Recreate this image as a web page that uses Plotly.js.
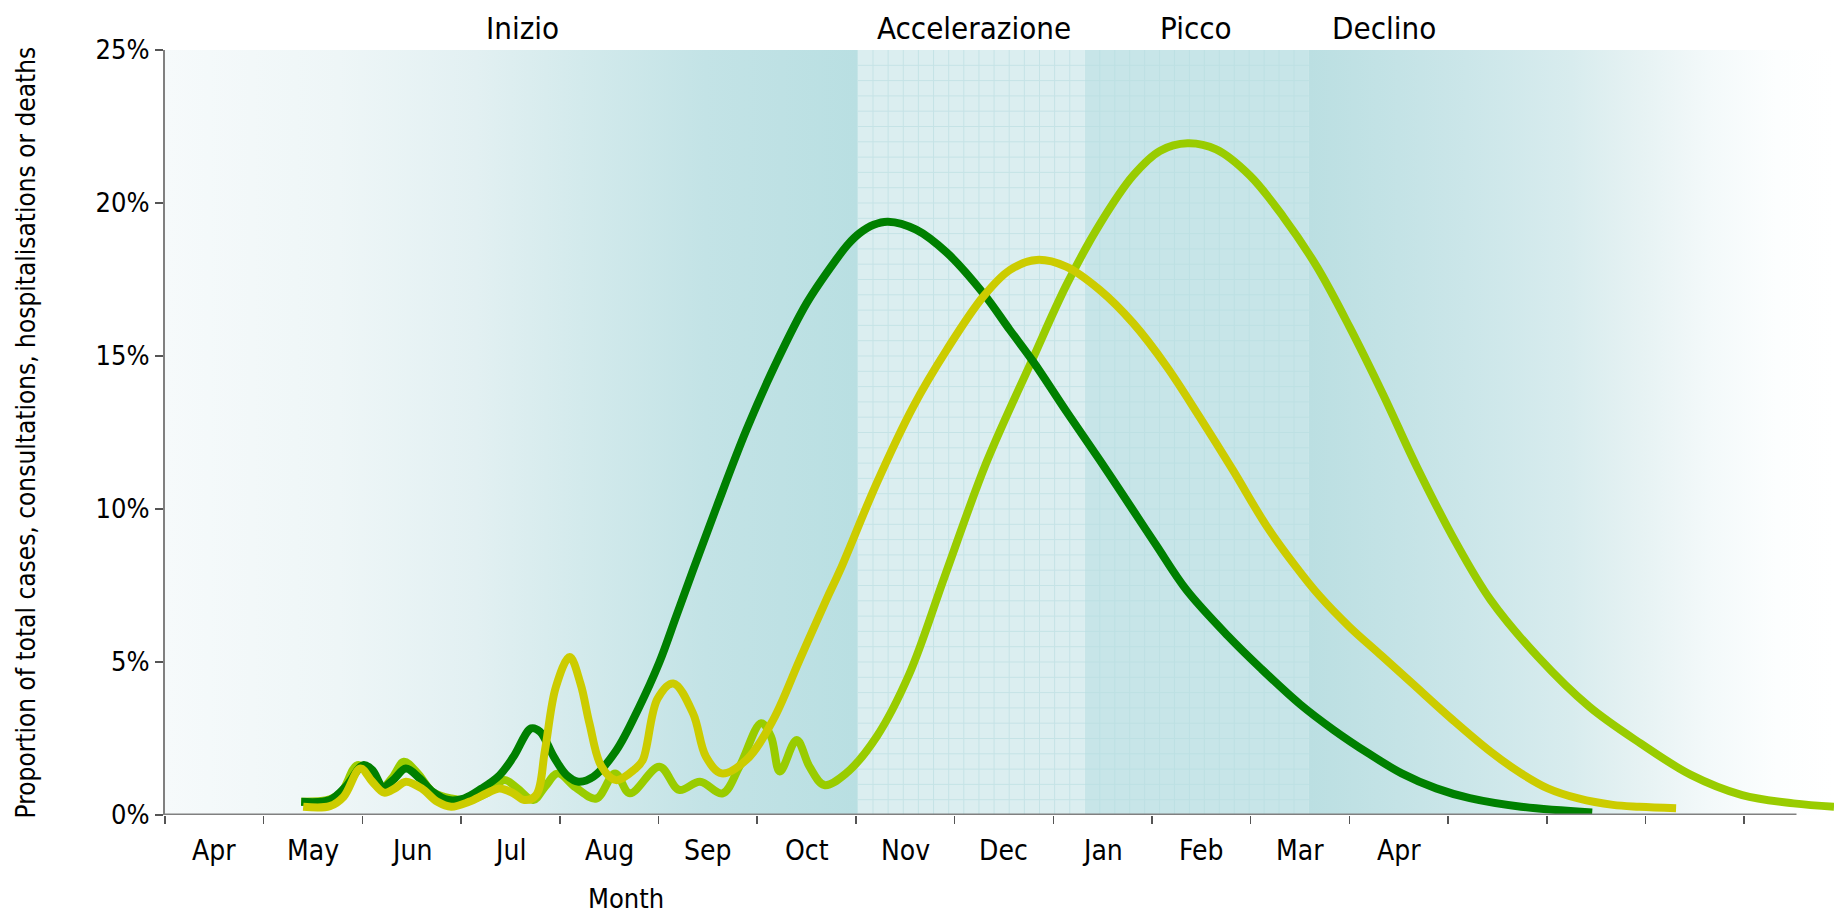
<!DOCTYPE html>
<html>
<head>
<meta charset="utf-8">
<script src="https://cdn.plot.ly/plotly-3.0.1.min.js"></script>
<style>html,body{margin:0;padding:0;background:#fff;}#chart{width:1834px;height:917px;}</style>
</head>
<body>
<div id="chart"></div>
<script>
// ---- Data (x = months since start of April; y = % of total) ----
const monthLabels = ['Apr','May','Jun','Jul','Aug','Sep','Oct','Nov','Dec','Jan','Feb','Mar','Apr'];
const monthTicks = [0,1,2,3,4,5,6,7,8,9,10,11,12,13,14,15,16];
const yTicks = [0,5,10,15,20,25];
const yTickText = ['0%','5%','10%','15%','20%','25%'];

const phaseNames = ['Inizio','Accelerazione','Picco','Declino'];
const phaseStart = [0, 7.02, 9.32, 11.59];
const phaseEnd   = [7.02, 9.32, 11.59, 16.91];
const phaseLabelX = [3.62, 8.20, 10.45, 12.35];

const darkX = [1.38,1.67,1.83,2.01,2.10,2.21,2.31,2.44,2.58,2.71,2.87,3.03,3.21,3.39,3.53,3.71,3.80,3.94,4.07,4.19,4.34,4.57,4.80,5.01,5.18,5.35,5.59,5.89,6.19,6.50,6.80,6.92,7.04,7.18,7.325,7.61,7.92,8.29,8.56,8.80,9.13,9.47,9.81,10.04,10.35,10.77,11.10,11.50,11.84,12.19,12.53,12.88,13.22,13.74,14.46];
const darkY = [0.43,0.49,0.92,1.63,1.47,0.92,1.14,1.52,1.20,0.76,0.49,0.54,0.87,1.30,1.90,2.83,2.72,1.90,1.30,1.09,1.25,2.10,3.50,5.00,6.50,8.00,10.08,12.58,14.76,16.72,18.15,18.65,19.02,19.29,19.39,19.13,18.38,17.05,15.85,14.80,13.20,11.60,9.95,8.83,7.35,5.85,4.80,3.62,2.78,2.02,1.36,0.87,0.55,0.27,0.08];

const yellowX = [1.40,1.67,1.81,1.98,2.10,2.22,2.33,2.44,2.60,2.76,2.90,3.08,3.26,3.39,3.53,3.64,3.76,3.85,3.96,4.10,4.21,4.30,4.42,4.57,4.76,4.84,4.99,5.15,5.35,5.48,5.64,5.89,6.16,6.43,6.70,6.84,7.21,7.58,7.92,8.29,8.56,8.83,9.13,9.47,9.81,10.15,10.48,10.82,11.16,11.45,11.70,12.00,12.30,12.63,13.05,13.43,13.74,14.01,14.32,14.67,14.94,15.31];
const yellowY = [0.27,0.29,0.60,1.52,1.09,0.73,0.87,1.09,0.87,0.43,0.27,0.43,0.71,0.87,0.71,0.49,0.65,2.12,4.18,5.16,4.29,3.00,1.60,1.14,1.50,1.79,3.80,4.30,3.32,1.91,1.36,1.80,3.10,5.07,7.03,8.00,10.84,13.34,15.20,16.94,17.81,18.14,17.92,17.16,16.07,14.65,13.02,11.27,9.45,8.15,7.15,6.15,5.28,4.32,3.10,2.07,1.36,0.87,0.54,0.33,0.27,0.22];

const lightX = [1.38,1.67,1.79,1.95,2.08,2.19,2.31,2.42,2.56,2.71,2.90,3.08,3.26,3.44,3.57,3.73,3.85,3.98,4.16,4.37,4.56,4.71,5.01,5.21,5.42,5.65,5.82,6.04,6.14,6.23,6.40,6.53,6.68,6.90,7.21,7.54,7.90,8.32,8.79,9.13,9.47,9.81,10.08,10.36,10.65,10.99,11.33,11.67,12.00,12.34,12.68,13.08,13.43,13.91,14.43,14.95,15.46,15.98,16.50,16.91];
const lightY = [0.43,0.51,0.76,1.63,1.36,0.87,1.25,1.74,1.36,0.76,0.54,0.49,0.71,1.14,0.87,0.49,0.92,1.36,0.90,0.54,1.36,0.71,1.58,0.82,1.09,0.71,1.58,3.00,2.56,1.42,2.45,1.58,0.98,1.36,2.56,4.60,7.80,11.50,14.90,17.30,19.30,20.90,21.70,21.95,21.75,20.90,19.55,17.92,15.96,13.75,11.40,8.90,7.03,5.17,3.54,2.34,1.31,0.65,0.38,0.27];

// ---- Styling ----
const FONT = "'DejaVu Sans Condensed', 'DejaVu Sans', sans-serif";
const xMax = 16.91, yMax = 25, axisEnd = 16.53;

const phaseFills = [
  {type:'horizontal', colorscale:[[0,'#f6fafb'],[0.25,'#eef6f7'],[0.45,'#e2f0f2'],[0.6,'#d3eaec'],[0.78,'#c3e3e6'],[1,'#b9dfe2']]},
  null,
  null,
  {type:'horizontal', colorscale:[[0,'#bbdfe2'],[0.3,'#cbe6e9'],[0.5,'#d8ecee'],[0.63,'#e6f2f3'],[0.76,'#f3f9fa'],[0.89,'#fcfefe'],[1,'#ffffff']]}
];
const phaseSolid = [null,'#dbeef0','#c7e5e8',null];
const gridColor = ['', '#c5e3e6', '#bde0e3', ''];

const traces = [];
phaseNames.forEach((n,i)=>{
  const t = {
    x:[phaseStart[i],phaseEnd[i],phaseEnd[i],phaseStart[i],phaseStart[i]],
    y:[0,0,yMax,yMax,0],
    mode:'lines', fill:'toself', line:{width:0}, hoverinfo:'skip', showlegend:false
  };
  if (phaseFills[i]) { t.fillgradient = phaseFills[i]; t.fillcolor = phaseFills[i].colorscale[0][1]; }
  else t.fillcolor = phaseSolid[i];
  traces.push(t);
});
// fine grid in the two middle phases
[1,2].forEach(i=>{
  const gx=[], gy=[];
  const n = 15, w = (phaseEnd[i]-phaseStart[i])/n;
  for (let k=1;k<n;k++){ const x=phaseStart[i]+k*w; gx.push(x,x,null); gy.push(0,yMax,null); }
  for (let v=0.5; v<yMax; v+=0.5){ gx.push(phaseStart[i],phaseEnd[i],null); gy.push(v,v,null); }
  traces.push({x:gx,y:gy,mode:'lines',line:{color:gridColor[i],width:1},hoverinfo:'skip',showlegend:false});
});

const lw = 8;
const sm = 1.0;
traces.push({x:lightX,y:lightY,mode:'lines',line:{color:'#99cc00',width:lw,shape:'spline',smoothing:sm},showlegend:false});
traces.push({x:darkX,y:darkY,mode:'lines',line:{color:'#008000',width:lw,shape:'spline',smoothing:sm},showlegend:false});
traces.push({x:yellowX,y:yellowY,mode:'lines',line:{color:'#cccc00',width:lw,shape:'spline',smoothing:sm},showlegend:false});

const annotations = phaseNames.map((n,i)=>({
  text:n, x:phaseLabelX[i], xref:'x', y:1.029, yref:'paper',
  xanchor:'center', yanchor:'middle', showarrow:false, font:{family:FONT,size:31,color:'#000'}
}));
monthLabels.forEach((m,i)=>annotations.push({
  text:m, x:monthTicks[i]+0.5, xref:'x', y:-0.0458, yref:'paper',
  xanchor:'center', yanchor:'middle', showarrow:false, font:{family:FONT,size:28,color:'#000'}
}));
annotations.push({text:'Month', x:4.67, xref:'x', y:-0.1098, yref:'paper', xanchor:'center', yanchor:'middle', showarrow:false, font:{family:FONT,size:27,color:'#000'}});
annotations.push({text:'Proportion of total cases, consultations, hospitalisations or deaths', x:-0.0833, xref:'paper', y:0.5, yref:'paper', textangle:-90, xanchor:'center', yanchor:'middle', showarrow:false, font:{family:FONT,size:26,color:'#000'}});

const layout = {
  width:1834, height:917,
  margin:{l:165,r:0,t:50,b:102,pad:0},
  paper_bgcolor:'#ffffff', plot_bgcolor:'#ffffff',
  showlegend:false,
  xaxis:{
    range:[0,xMax], tickmode:'array', tickvals:monthTicks, showticklabels:false,
    ticks:'outside', ticklen:8, tickwidth:1.5, tickcolor:'#555',
    showline:false, showgrid:false, zeroline:false, fixedrange:true
  },
  yaxis:{
    range:[0,yMax], tickmode:'array', tickvals:yTicks, ticktext:yTickText,
    ticks:'outside', ticklen:8, tickwidth:1.5, tickcolor:'#555',
    showline:true, linecolor:'#808080', linewidth:2,
    showgrid:false, zeroline:false, fixedrange:true,
    tickfont:{family:FONT,size:27,color:'#000'}
  },
  shapes:[{type:'line', xref:'x', yref:'y', x0:0, x1:axisEnd, y0:0, y1:0, line:{color:'#808080',width:3}, layer:'above'}],
  annotations:annotations
};

Plotly.newPlot('chart', traces, layout, {displayModeBar:false, staticPlot:true});
</script>
</body>
</html>
